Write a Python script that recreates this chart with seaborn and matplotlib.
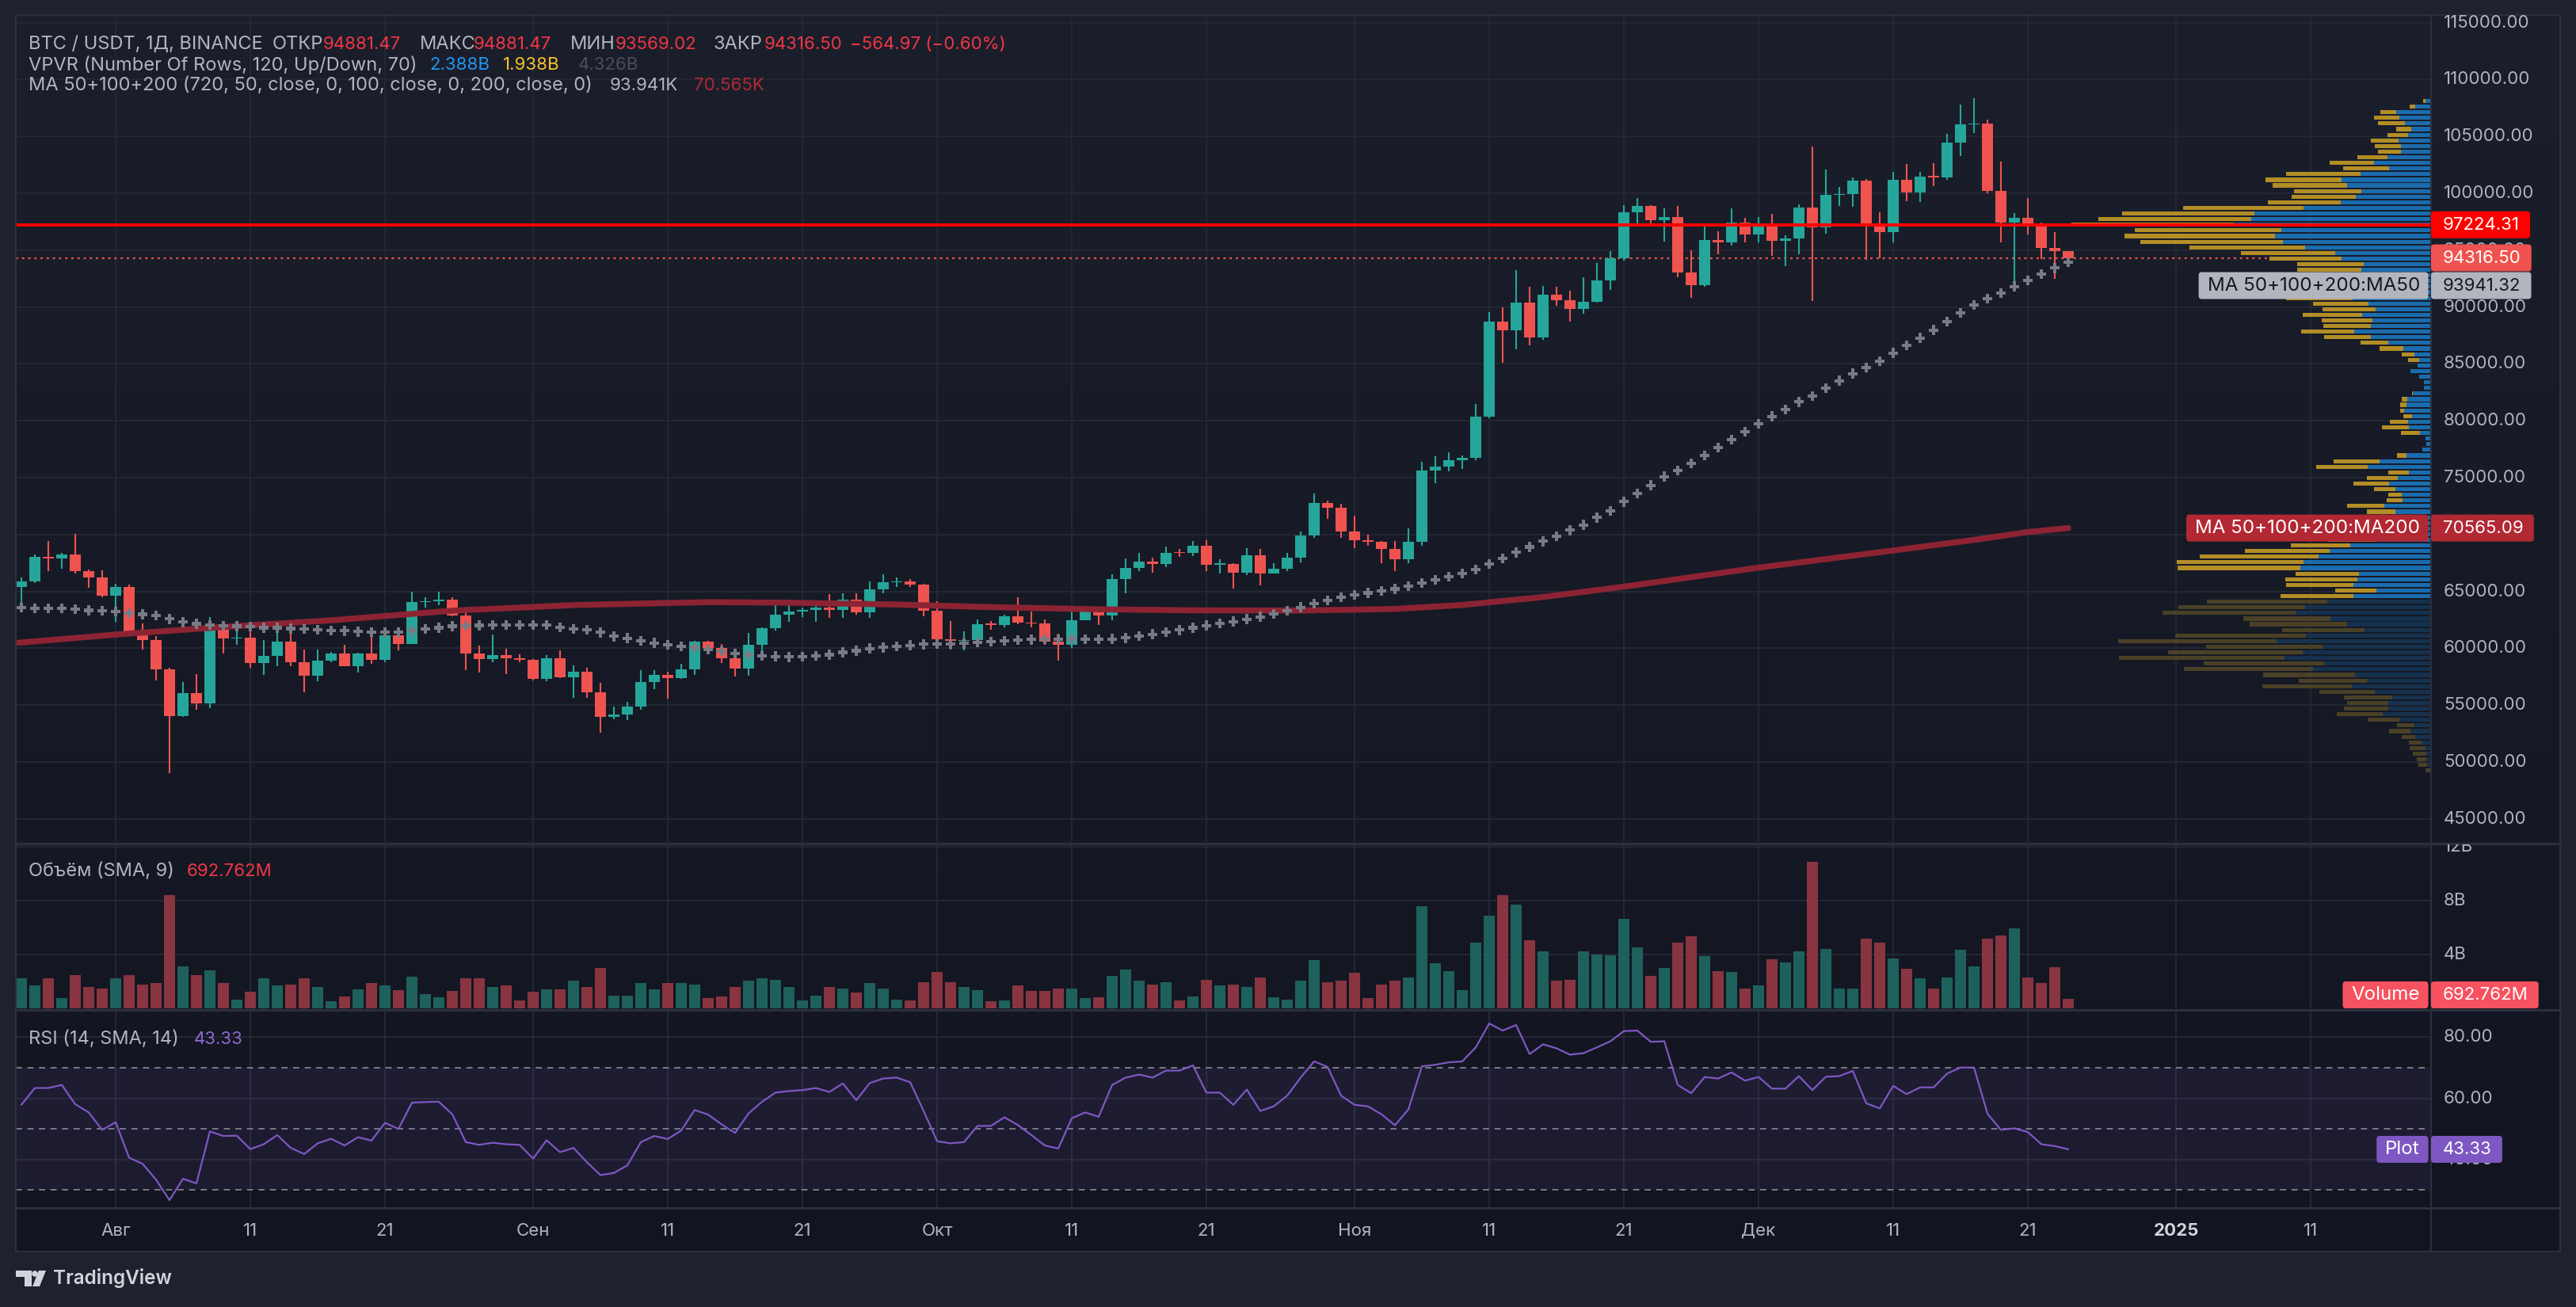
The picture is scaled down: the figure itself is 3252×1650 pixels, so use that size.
import numpy as np
import pandas as pd
import matplotlib
matplotlib.use("Agg")
import matplotlib.pyplot as plt
import matplotlib.dates as mdates
import matplotlib.transforms as mtransforms
from matplotlib.colors import LinearSegmentedColormap
from matplotlib.patches import Rectangle, FancyBboxPatch, Polygon, Circle
import seaborn as sns

W, H = 3252, 1650

# ---------------- data ----------------
first_day = "2024-07-25"

opens = [65400, 65850, 68000, 67900, 68250, 66800, 66200,
         64650, 65350, 61500, 60700, 58150, 54050, 56050, 55150, 61700, 60850,
         60950, 58700, 59350, 60600, 58750, 57550, 58900, 59500, 58450, 59500,
         59000, 61150, 60400, 64050, 64150, 64250, 62850, 59500, 59050, 59400, 59150,
         58950, 57300, 59150, 57450, 57950, 56150, 53950, 54150, 54850, 57050,
         57650, 57350, 58150, 60550, 60000, 59150, 58200, 60300, 61750, 62950,
         63200, 63350, 63600, 63350, 64300, 63150, 65200, 65800, 65900, 65600,
         63300, 60800, 60650, 60750, 62100, 62050, 62800, 62250, 62150, 60600,
         60300, 62450, 63200, 62850, 66050, 67050, 67600, 67400, 68400, 68350,
         69000, 67350, 67400, 66650, 68150, 66600, 67000, 67950, 69900, 72750, 72350,
         70250, 69500, 69350, 68750, 67800, 69350, 75600, 75950, 76550, 76700,
         80350, 88700, 87950, 90400, 87300, 91050, 90600, 89850, 90450, 92300,
         94300, 98350, 98900, 97650, 97900, 93000, 91950, 95900, 95650, 97450,
         96400, 97200, 95850, 96000, 98750, 97000, 99850, 99900, 101100, 97300,
         96600, 101150, 100050, 101450, 101400, 104450, 106050, 106150, 100200, 97450,
         97800, 97300, 95200, 94881.47]
last_close = 94316.50
closes = opens[1:] + [last_close]

highs = [66250, 68250, 69450, 68400, 70050, 66950, 66850,
         65650, 65600, 62200, 61100, 58300, 57050, 57750, 62750, 61800, 61450,
         61850, 60700, 61600, 61800, 59850, 59850, 59700, 60300, 59600, 61400,
         61800, 61400, 64950, 64500, 65000, 64500, 63200, 60250, 61200, 59950, 59450,
         59050, 59400, 59800, 58500, 58300, 56950, 54850, 55300, 58100, 58050,
         57950, 58600, 60650, 60650, 60400, 59200, 61350, 61800, 63850, 64150,
         63550, 64000, 64750, 64800, 64800, 65850, 66500, 66250, 66100, 65650,
         64150, 62400, 61450, 62500, 62400, 62950, 64450, 63200, 62550, 61300,
         63400, 63450, 63300, 66500, 67900, 68400, 67950, 68950, 68700, 69400,
         69500, 67850, 67450, 68800, 68750, 67450, 68350, 70250, 73600, 72950, 72700,
         71650, 70000, 69400, 69450, 70550, 76400, 76900, 77250, 76950, 81500,
         89550, 89950, 93250, 91800, 91850, 91800, 91450, 92600, 93900, 94900,
         98950, 99600, 98950, 98650, 98900, 94950, 97350, 96650, 98700, 97800,
         97900, 98150, 96300, 99000, 104100, 102050, 100550, 101400, 101250, 98300,
         101900, 102550, 101900, 102650, 105250, 107800, 108350, 106500, 102800, 98250,
         99550, 97450, 96550, 94881.47]

lows = [63350, 65750, 66800, 67000, 66550, 65300, 64500,
        62300, 61200, 59850, 57150, 49000, 53950, 54600, 54750, 59550, 60300,
        58300, 57650, 58450, 58450, 56100, 57100, 58800, 58400, 57850, 58600,
        58800, 59800, 60350, 63600, 63800, 62800, 58100, 57850, 58800, 57700, 58750,
        57200, 57100, 57400, 55600, 55650, 52550, 53750, 53650, 54600, 56400,
        55550, 57300, 57650, 59450, 58700, 57500, 57600, 59200, 61550, 62350,
        62750, 62350, 62650, 62700, 62950, 62650, 64800, 65400, 65400, 62800,
        60150, 59850, 59800, 60450, 61650, 61800, 62100, 61850, 60300, 58900,
        60050, 62450, 62050, 62450, 64800, 66750, 66650, 67150, 68000, 68100,
        66800, 66550, 65250, 66450, 65500, 66550, 66800, 67550, 69700, 71400, 69700,
        68800, 69000, 67450, 66800, 67450, 69000, 74500, 75550, 75750, 76500,
        80200, 85100, 86250, 86650, 87100, 90100, 88700, 89400, 90350, 91500,
        94100, 97200, 97150, 95750, 92600, 90800, 91750, 94650, 95400, 95700,
        95700, 94500, 93600, 94650, 90500, 96450, 98900, 98800, 94150, 94250,
        95700, 99300, 99200, 100600, 101200, 103300, 105300, 100000, 95700, 92200,
        96400, 94200, 92500, 93569.02]

# daily volume, billions USDT
volumes = [2.25, 1.68, 2.21, 0.75, 2.50, 1.57, 1.50,
           2.25, 2.50, 1.75, 1.90, 8.44, 3.12, 2.50, 2.83, 1.90, 0.64,
           1.22, 2.21, 1.68, 1.75, 2.21, 1.61, 0.53, 0.86, 1.39, 1.90,
           1.68, 1.33, 2.36, 1.04, 0.82, 1.28, 2.21, 2.21, 1.61, 1.68, 0.57,
           1.22, 1.39, 1.39, 2.03, 1.61, 3.00, 0.93, 0.93, 1.86, 1.39,
           1.90, 1.86, 1.79, 0.75, 0.86, 1.57, 2.03, 2.21, 2.14, 1.61,
           0.57, 0.93, 1.57, 1.50, 1.15, 1.86, 1.50, 0.64, 0.57, 1.97,
           2.72, 1.97, 1.61, 1.33, 0.53, 0.57, 1.68, 1.28, 1.28, 1.46,
           1.50, 0.77, 0.82, 2.43, 2.90, 2.03, 1.75, 1.97, 0.57, 0.86,
           2.14, 1.68, 1.75, 1.57, 2.32, 0.82, 0.64, 2.03, 3.58, 1.97, 2.08,
           2.65, 0.75, 1.75, 2.03, 2.32, 7.58, 3.36, 2.78, 1.33, 4.86,
           6.87, 8.44, 7.69, 5.04, 4.22, 2.08, 2.14, 4.22, 4.00, 3.93,
           6.65, 4.51, 2.43, 3.00, 4.86, 5.33, 3.87, 2.78, 2.72, 1.46,
           1.68, 3.65, 3.40, 4.22, 10.87, 4.40, 1.50, 1.50, 5.19, 4.91,
           3.69, 2.96, 2.21, 1.46, 2.32, 4.33, 3.12, 5.15, 5.44, 5.94,
           2.32, 1.86, 3.07, 0.69]

rsi = [57.9, 63.4, 63.4, 64.4, 58.1, 55.4, 49.7,
       52.2, 40.6, 38.6, 33.4, 26.7, 33.7, 32.2, 49.2, 47.7, 47.8,
       43.4, 45.0, 48.0, 43.8, 41.8, 45.3, 46.8, 44.6, 47.3, 46.2,
       52.0, 50.0, 58.6, 58.8, 58.9, 54.8, 45.7, 44.8, 45.5, 45.0, 44.8,
       40.3, 46.3, 42.4, 43.8, 39.1, 34.9, 35.6, 38.1, 45.7, 47.7,
       46.7, 49.5, 56.2, 54.7, 51.5, 48.7, 55.1, 58.9, 61.9, 62.4,
       62.7, 63.4, 62.1, 64.9, 59.4, 65.0, 66.5, 66.8, 65.3, 55.9,
       46.0, 45.3, 45.7, 51.0, 51.0, 53.8, 51.3, 48.0, 44.6, 43.6,
       53.5, 55.4, 54.0, 64.4, 66.8, 67.8, 66.8, 69.1, 69.1, 70.8,
       61.9, 61.9, 57.9, 62.9, 55.9, 57.4, 60.9, 66.8, 72.1, 70.3, 60.9,
       57.9, 57.4, 54.8, 51.2, 56.4, 70.5, 71.0, 71.8, 72.1, 76.7,
       84.5, 82.2, 84.0, 74.5, 77.7, 76.4, 74.3, 74.8, 76.7, 78.7,
       82.0, 82.2, 78.5, 78.7, 64.4, 61.7, 67.0, 66.5, 68.5, 65.8,
       67.0, 63.2, 63.2, 67.3, 62.7, 67.1, 67.3, 69.0, 58.4, 56.7,
       64.1, 61.4, 63.6, 63.6, 68.1, 70.1, 70.1, 55.0, 49.7, 50.2,
       49.0, 45.0, 44.4, 43.33]

ma50 = [63560, 63490, 63490, 63490, 63420, 63330, 63280,
        63210, 63100, 62980, 62870, 62570, 62290, 62150, 62060, 61990, 61940,
        61900, 61800, 61800, 61730, 61690, 61620, 61570, 61530, 61460, 61410,
        61390, 61390, 61530, 61690, 61800, 61940, 61990, 62010, 62030, 62060, 62060,
        62060, 62030, 61850, 61710, 61620, 61390, 61040, 60880, 60630, 60460,
        60280, 60164, 60059, 59902, 59725, 59525, 59396, 59308, 59276, 59233,
        59269, 59327, 59430, 59635, 59778, 59980, 60062, 60162, 60256, 60348,
        60377, 60378, 60419, 60510, 60573, 60639, 60714, 60767, 60799, 60782,
        60823, 60806, 60780, 60816, 60900, 61063, 61230, 61411, 61596, 61797,
        61998, 62164, 62348, 62552, 62761, 63021, 63297, 63598, 63911, 64204, 64461,
        64688, 64865, 65040, 65214, 65437, 65743, 66026, 66296, 66565, 66905,
        67406, 67899, 68420, 68903, 69400, 69860, 70370, 70840, 71490, 72070,
        72880, 73620, 74320, 75090, 75620, 76250, 76940, 77640, 78330, 79030,
        79730, 80380, 81000, 81650, 82160, 82860, 83510, 84140, 84670, 85250,
        85950, 86620, 87270, 87970, 88710, 89480, 90170, 90750, 91220, 91800,
        92330, 92890, 93420, 93941.32]

ma200_dates = ["2024-07-24", "2024-08-01", "2024-08-09", "2024-08-17", "2024-08-26",
               "2024-09-04", "2024-09-14", "2024-09-20", "2024-09-28", "2024-10-05",
               "2024-10-13", "2024-10-20", "2024-10-28", "2024-11-04", "2024-11-09",
               "2024-11-15", "2024-11-21", "2024-12-01", "2024-12-11", "2024-12-17",
               "2024-12-21", "2024-12-24"]
ma200_vals = [60400, 61200, 61870, 62450, 63300, 63790, 64050, 64000, 63840, 63610,
              63420, 63330, 63310, 63450, 63800, 64500, 65410, 67080, 68590, 69520,
              70210, 70565.09]

# volume profile, 120 rows, listed from the top row down (up = blue, down = yellow)
vp_low, vp_high = 49000.0, 108353.0
value_area_low = 64300.0
vp_up = [5.8, 18.7, 42.8, 38.7, 31.6, 24.5, 27.9, 39.9, 36.6, 36.6,
         53.6, 70.7, 52.0, 87.7, 111.9, 104.8, 86.9, 94.0, 112.7, 159.7,
         221.6, 225.8, 247.8, 187.9, 195.8, 185.9, 157.6, 119.8, 111.9, 84.0,
         86.9, 90.0, 95.0, 100.0, 95.0, 97.7, 77.8, 68.6, 85.7, 72.8,
         74.8, 95.6, 74.8, 52.8, 33.7, 20.0, 13.7, 15.8, 24.9, 13.7,
         7.9, 7.9, 21.6, 28.7, 29.9, 32.8, 22.9, 27.9, 26.6, 12.9,
         5.8, 5.0, 10.0, 29.9, 63.6, 78.6, 26.6, 40.7, 52.0, 43.7,
         35.8, 34.9, 57.8, 43.7, 60.0, 70.0, 80.0, 75.0, 70.0, 100.6,
         126.8, 141.0, 159.7, 163.8, 89.8, 91.9, 96.9, 67.8, 96.9, 129.7,
         157.6, 169.6, 126.0, 104.8, 82.7, 156.8, 193.8, 134.7, 160.9, 183.8,
         133.9, 147.6, 94.8, 79.8, 99.0, 69.9, 47.8, 52.8, 52.8, 59.9,
         38.7, 20.0, 24.9, 18.7, 10.8, 5.8, 4.6, 4.6, 3.7, 0.0]
vp_down = [2.9, 7.1, 20.0, 32.0, 34.1, 18.3, 25.8, 34.9, 33.3, 29.1,
           38.3, 56.1, 57.8, 94.0, 96.0, 94.0, 84.8, 80.7, 92.3, 152.2,
           167.2, 192.9, 205.0, 185.0, 190.0, 180.0, 146.4, 118.9, 91.1, 84.0,
           81.1, 85.0, 90.0, 90.0, 85.0, 84.0, 69.9, 67.4, 75.3, 64.0,
           59.9, 67.4, 59.0, 34.9, 29.9, 15.8, 14.1, 0.0, 0.0, 0.0,
           0.0, 0.0, 1.2, 7.1, 7.9, 5.0, 10.8, 22.9, 34.1, 23.7,
           0.0, 0.0, 0.0, 12.1, 58.2, 65.3, 26.2, 39.1, 44.9, 27.0,
           17.0, 20.0, 47.0, 36.2, 50.0, 60.0, 70.0, 65.0, 60.0, 75.3,
           106.9, 149.7, 160.1, 155.1, 79.8, 91.1, 84.8, 52.0, 91.9, 152.2,
           160.1, 168.0, 109.8, 123.1, 104.0, 165.1, 200.0, 148.0, 170.1, 209.1,
           151.8, 163.0, 116.0, 86.1, 112.7, 69.9, 61.1, 52.0, 56.1, 57.8,
           39.9, 22.0, 27.0, 17.0, 15.8, 20.0, 17.0, 12.1, 11.2, 5.8]

hline_level = 97224.31
price_ticks = list(range(45000, 115001, 5000))
volume_ticks = [4, 8, 12]
volume_tick_labels = ["4B", "8B", "12B"]
rsi_ticks = [40, 60, 80]
tick_dates = ["2024-08-01", "2024-08-11", "2024-08-21", "2024-09-01", "2024-09-11",
              "2024-09-21", "2024-10-01", "2024-10-11", "2024-10-21", "2024-11-01",
              "2024-11-11", "2024-11-21", "2024-12-01", "2024-12-11", "2024-12-21",
              "2025-01-01", "2025-01-11"]
tick_labels = ["Авг", "11", "21", "Сен", "11", "21", "Окт", "11", "21", "Ноя",
               "11", "21", "Дек", "11", "21", "2025", "11"]

# ---------------- style ----------------
sns.set_theme(style="dark", rc={"figure.facecolor": "#1e222d", "axes.facecolor": "none"})
plt.rcParams["font.family"] = ["Inter", "DejaVu Sans"]

BG_TOP, BG_BOT = "#1b1f2b", "#121520"
GRID = "#252935"
SEP = "#2c303b"
TXT = "#b2b5be"
UP, DOWN = "#26a69a", "#ef5350"
VOL_UP, VOL_DOWN = "#1e615c", "#893441"
FS = 16          # price / time scale and numbers
FS_LEG = 17      # words in the pane legends
FS_TAG = 17.4    # names on the scale tags

dates = pd.date_range(first_day, periods=len(opens), freq="D")
xs = mdates.date2num(dates)
o, h, l, c = (np.array(a, float) for a in (opens, highs, lows, closes))
rising = c >= o

aug1 = mdates.date2num(pd.Timestamp("2024-08-01"))
px_day, aug1_px = 17.0, 146.0          # horizontal scale of the time axis
x_lo = aug1 + (20 - aug1_px) / px_day
x_hi = aug1 + (3068 - aug1_px) / px_day

fig = plt.figure(figsize=(W / 100, H / 100), dpi=100)
pxT = mtransforms.Affine2D().scale(1 / W, -1 / H).translate(0, 1) + fig.transFigure


def rect(x0, y0, x1, y1):
    return [x0 / W, 1 - y1 / H, (x1 - x0) / W, (y1 - y0) / H]


# background gradient behind the whole chart frame
ax_bg = fig.add_axes(rect(20, 19, 3232, 1580), zorder=-10)
ax_bg.imshow(np.linspace(0, 1, 256)[:, None], aspect="auto", origin="upper",
             cmap=LinearSegmentedColormap.from_list("bg", [BG_TOP, BG_BOT]),
             extent=[0, 1, 0, 1])
ax_bg.axis("off")

ax_p = fig.add_axes(rect(20, 19, 3068, 1063))
ax_v = fig.add_axes(rect(20, 1066, 3068, 1273))
ax_r = fig.add_axes(rect(20, 1276, 3068, 1524))
for ax in (ax_p, ax_v, ax_r):
    ax.set_facecolor("none")
    ax.set_xlim(x_lo, x_hi)
    ax.set_xticks([])
    ax.set_yticks([])
    for s in ax.spines.values():
        s.set_visible(False)
    for d in tick_dates:
        ax.axvline(mdates.date2num(pd.Timestamp(d)), color=GRID, lw=1.3, zorder=0)

ax_p.set_ylim(42960, 115662)
ax_v.set_ylim(0, 207 / 17.0)
ax_r.set_ylim(24.4, 88.68)

# ---------------- price pane ----------------
for p in price_ticks:
    ax_p.axhline(p, color=GRID, lw=1.3, zorder=0)

ax_p.axhline(last_close, color=DOWN, lw=1.6, ls=(0, (1.3, 2.2)), zorder=1.5)

cols = np.where(rising, UP, DOWN)
ax_p.vlines(xs, l, h, colors=cols, lw=1.5, zorder=2)
ax_p.bar(xs, np.maximum(np.abs(c - o), 100), bottom=np.minimum(o, c), width=0.8,
         color=cols, linewidth=0, zorder=2.1)

ma200_df = pd.DataFrame({"x": mdates.date2num(pd.to_datetime(ma200_dates)), "ma": ma200_vals})
sns.lineplot(data=ma200_df, x="x", y="ma", ax=ax_p, color="#8c2333", lw=5.4,
             solid_capstyle="round", zorder=3, legend=False)
ma50_df = pd.DataFrame({"x": xs, "ma": ma50})
sns.scatterplot(data=ma50_df, x="x", y="ma", ax=ax_p, marker="P", s=80,
                color="#787b86", edgecolor="none", zorder=4, legend=False)
ax_p.set_xlabel("")
ax_p.set_ylabel("")
ax_p.set_xlim(x_lo, x_hi)

# volume profile on a twin axis growing from the right edge
ax_vp = ax_p.twiny()
ax_vp.set_xlim(3048, 0)
ax_vp.axis("off")
nrows = len(vp_up)
row_h = (vp_high - vp_low) / nrows
centers = vp_low + row_h * (np.arange(nrows)[::-1] + 0.5)
in_va = centers >= value_area_low
up_a, dn_a = np.array(vp_up), np.array(vp_down)
ax_vp.barh(centers, up_a, height=row_h * 0.72, left=0,
           color=np.where(in_va, "#1a6cae", "#15314e"), linewidth=0, zorder=1)
ax_vp.barh(centers, dn_a, height=row_h * 0.72, left=up_a,
           color=np.where(in_va, "#b38d26", "#4a4026"), linewidth=0, zorder=1)
ax_vp.axhline(hline_level, color="#ff0000", lw=2.9, zorder=5)

# ---------------- volume pane ----------------
for v in volume_ticks:
    ax_v.axhline(v, color=GRID, lw=1.3, zorder=0)
ax_v.bar(xs, volumes, width=0.86, color=np.where(rising, VOL_UP, VOL_DOWN),
         linewidth=0, zorder=2)

# ---------------- RSI pane ----------------
for v in rsi_ticks:
    ax_r.axhline(v, color=GRID, lw=1.3, zorder=0)
ax_r.axhspan(30, 70, color="#7e57c2", alpha=0.10, lw=0, zorder=0.5)
for v in (70, 50, 30):
    ax_r.axhline(v, color="#787b86", lw=1.4, ls=(0, (4, 3.5)), zorder=1)
rsi_df = pd.DataFrame({"x": xs, "rsi": rsi})
sns.lineplot(data=rsi_df, x="x", y="rsi", ax=ax_r, color="#7e57c2", lw=1.6,
             zorder=3, legend=False)
ax_r.set_xlabel("")
ax_r.set_ylabel("")
ax_r.set_xlim(x_lo, x_hi)

# ---------------- frame ----------------
def hline_px(y, x0, x1, lw=1.5, color=SEP, z=2):
    fig.add_artist(plt.Line2D([x0, x1], [y, y], transform=pxT, color=color, lw=lw, zorder=z))


def vline_px(x, y0, y1, lw=1.5, color=SEP, z=2):
    fig.add_artist(plt.Line2D([x, x], [y0, y1], transform=pxT, color=color, lw=lw, zorder=z))


hline_px(19, 20, 3232)
hline_px(1580, 20, 3232)
hline_px(1064.5, 20, 3232, lw=2.4)
hline_px(1274.5, 20, 3232, lw=2.2)
hline_px(1525, 20, 3232, lw=2.2)
vline_px(20, 19, 1580)
vline_px(3232, 19, 1580)
vline_px(3068.5, 19, 1580)

renderer = fig.canvas.get_renderer()


def T(x, y, s, color=TXT, size=FS, ha="left", va="center", weight="normal", z=3):
    return fig.text(x, y, s, transform=pxT, color=color, fontsize=size, ha=ha, va=va,
                    fontweight=weight, zorder=z)


def ypx(ax, v):
    return H - ax.transData.transform((x_lo, v))[1]


def xpx(ax, d):
    return ax.transData.transform((d, 0))[0]


def clip_to(t, top, bottom):
    bb = mtransforms.Bbox([[0, 1 - bottom / H], [1, 1 - top / H]])
    t.set_clip_box(mtransforms.TransformedBbox(bb, fig.transFigure))
    t.set_clip_on(True)


# value tags on the right scale
HH = 17
tag_spans = []


def box(x0, x1, yc, color):
    fig.add_artist(FancyBboxPatch((x0, yc - HH), x1 - x0, 2 * HH,
                                  boxstyle="round,pad=0,rounding_size=4",
                                  transform=pxT, fc=color, ec="none", zorder=6))


def tag(yc, value, color, fg="white", name=None):
    t = T(3084, yc, value, color=fg, z=7)
    w = t.get_window_extent(renderer).width
    box(3069, 3084 + w + 13, yc, color)
    tag_spans.append((yc - HH, yc + HH))
    if name:
        tn = T(3055, yc, name, color=fg, ha="right", z=7, size=FS_TAG)
        wn = tn.get_window_extent(renderer).width
        box(3055 - wn - 11, 3065.5, yc, color)


price_tags = [(hline_level, f"{hline_level:.2f}", "#ff0000", "white", None),
              (last_close, f"{last_close:.2f}", "#ef5350", "white", None),
              (ma50[-1], f"{ma50[-1]:.2f}", "#b2b5be", "#131722", "MA 50+100+200:MA50"),
              (ma200_vals[-1], f"{ma200_vals[-1]:.2f}", "#b22833", "white", "MA 50+100+200:MA200")]
placed = []
for val, s, col, fg, name in sorted(price_tags, key=lambda r: -r[0]):
    yc = ypx(ax_p, val)
    if placed and yc - placed[-1] < 2 * HH + 1:
        yc = placed[-1] + 2 * HH + 1
    placed.append(yc)
    tag(yc, s, col, fg, name)

yv = min(ypx(ax_v, volumes[-1]), 1273 - HH)
tag(yv, "692.762M", "#f7525f", name="Volume")
tag(ypx(ax_r, rsi[-1]), f"{rsi[-1]:.2f}", "#7e57c2", name="Plot")


def scale_label(y, s, top, bottom):
    # a scale label partly hidden under a tag keeps only its uncovered sliver
    t = T(3085, y, s)
    for y0, y1 in tag_spans:
        if y0 - 12 < y < y1 + 12:
            if y < (y0 + y1) / 2:
                bottom = min(bottom, y0)
            else:
                top = max(top, y1)
    clip_to(t, top, bottom)


for p in price_ticks:
    scale_label(ypx(ax_p, p), f"{p:.2f}", 19, 1064)
for v, s in zip(volume_ticks, volume_tick_labels):
    scale_label(ypx(ax_v, v), s, 1066, 1274)
for v in rsi_ticks:
    scale_label(ypx(ax_r, v), f"{v:.2f}", 1276, 1525)

# time axis labels
for d, s in zip(tick_dates, tick_labels):
    bold = s == "2025"
    T(xpx(ax_r, mdates.date2num(pd.Timestamp(d))), 1554, s, ha="center",
      color="#d1d4dc" if bold else TXT, weight="bold" if bold else "normal")


# ---------------- legends ----------------
def parts(y, items):
    for x, s, col in items:
        numeric = s[:1].isdigit() or s[:1] == "−"
        T(x, y, s, color=col, size=FS if numeric else FS_LEG)


RED = "#f23645"
parts(56, [(36, "BTC / USDT, 1Д, BINANCE", TXT), (344, "ОТКР", TXT), (408, "94881.47", RED),
           (530, "МАКС", TXT), (598, "94881.47", RED), (720, "МИН", TXT), (777, "93569.02", RED),
           (900, "ЗАКР", TXT), (965, "94316.50", RED), (1073, "−564.97 (−0.60%)", RED)])
parts(82, [(36, "VPVR (Number Of Rows, 120, Up/Down, 70)", TXT), (542, "2.388B", "#2196f3"),
           (635, "1.938B", "#fbc02d"), (730, "4.326B", "#4a4e59")])
parts(108, [(36, "MA 50+100+200 (720, 50, close, 0, 100, close, 0, 200, close, 0)", TXT),
            (770, "93.941K", TXT), (876, "70.565K", "#b22833")])
parts(1100, [(36, "Объём (SMA, 9)", TXT), (236, "692.762M", RED)])
parts(1312, [(36, "RSI (14, SMA, 14)", TXT), (245, "43.33", "#8e6bd0")])

# TradingView mark
LOGO = "#d1d4dc"
fig.add_artist(Rectangle((20, 1604), 19, 8, transform=pxT, fc=LOGO, ec="none", zorder=3))
fig.add_artist(Rectangle((31, 1604), 9, 20, transform=pxT, fc=LOGO, ec="none", zorder=3))
fig.add_artist(Circle((44, 1608), 3.8, transform=pxT, fc=LOGO, ec="none", zorder=3))
fig.add_artist(Polygon([(49, 1604), (58, 1604), (50, 1624), (41, 1624)], closed=True,
                       transform=pxT, fc=LOGO, ec="none", zorder=3))
T(67, 1614, "TradingView", color=LOGO, size=17.5, weight="semibold")

fig.savefig("out.png", dpi=100, facecolor=fig.get_facecolor())
